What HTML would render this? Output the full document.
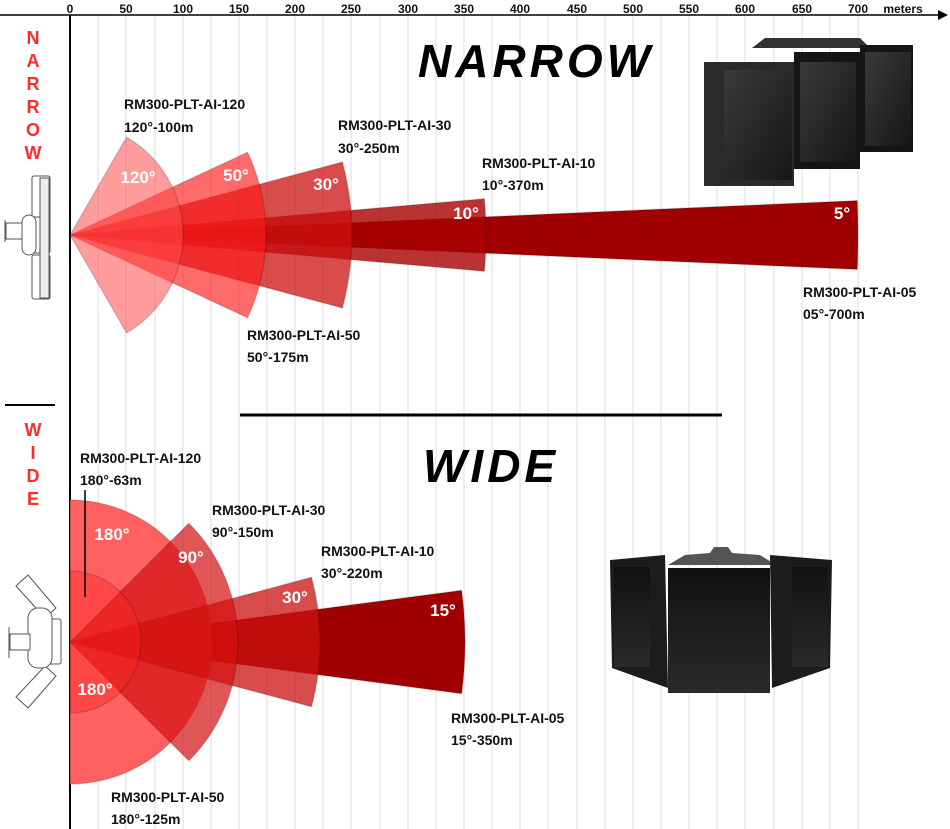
<!DOCTYPE html>
<html><head><meta charset="utf-8"><style>
html,body{margin:0;padding:0;background:#fff;}
svg{display:block;}
.lb{font-family:"Liberation Sans",sans-serif;font-weight:bold;font-size:14px;fill:#111;}
.ax{font-family:"Liberation Sans",sans-serif;font-weight:bold;font-size:12px;fill:#111;text-anchor:middle;}
.ang{font-family:"Liberation Sans",sans-serif;font-weight:bold;font-size:17px;fill:#fff;text-anchor:middle;}
.rl{font-family:"Liberation Sans",sans-serif;font-weight:bold;font-size:18px;fill:#ff2a2a;text-anchor:middle;}
.tt{font-family:"Liberation Sans",sans-serif;font-weight:bold;font-style:italic;font-size:46px;fill:#000;letter-spacing:4px;}
</style></head><body>
<svg width="950" height="829" viewBox="0 0 950 829" xmlns="http://www.w3.org/2000/svg">
<defs>
<linearGradient id="pg" x1="0" y1="0" x2="1" y2="1"><stop offset="0" stop-color="#3a3a3a"/><stop offset="1" stop-color="#161616"/></linearGradient>
<linearGradient id="wg" x1="0" y1="0" x2="0" y2="1"><stop offset="0" stop-color="#111"/><stop offset="1" stop-color="#2a2a2a"/></linearGradient>
</defs>
<g stroke="#dcdcdc" stroke-width="1">
<line x1="98" y1="15" x2="98" y2="829"/><line x1="126" y1="15" x2="126" y2="829"/><line x1="155" y1="15" x2="155" y2="829"/><line x1="183" y1="15" x2="183" y2="829"/><line x1="211" y1="15" x2="211" y2="829"/><line x1="239" y1="15" x2="239" y2="829"/><line x1="267" y1="15" x2="267" y2="829"/><line x1="295" y1="15" x2="295" y2="829"/><line x1="323" y1="15" x2="323" y2="829"/><line x1="351" y1="15" x2="351" y2="829"/><line x1="380" y1="15" x2="380" y2="829"/><line x1="408" y1="15" x2="408" y2="829"/><line x1="436" y1="15" x2="436" y2="829"/><line x1="464" y1="15" x2="464" y2="829"/><line x1="492" y1="15" x2="492" y2="829"/><line x1="520" y1="15" x2="520" y2="829"/><line x1="548" y1="15" x2="548" y2="829"/><line x1="577" y1="15" x2="577" y2="829"/><line x1="605" y1="15" x2="605" y2="829"/><line x1="633" y1="15" x2="633" y2="829"/><line x1="661" y1="15" x2="661" y2="829"/><line x1="689" y1="15" x2="689" y2="829"/><line x1="717" y1="15" x2="717" y2="829"/><line x1="745" y1="15" x2="745" y2="829"/><line x1="774" y1="15" x2="774" y2="829"/><line x1="802" y1="15" x2="802" y2="829"/><line x1="830" y1="15" x2="830" y2="829"/><line x1="858" y1="15" x2="858" y2="829"/>
</g>
<line x1="0" y1="15" x2="938" y2="15" stroke="#000" stroke-width="1.5"/>
<path d="M938,10 L948,15 L938,20 Z" fill="#000"/>
<line x1="70" y1="15" x2="70" y2="829" stroke="#000" stroke-width="2"/>
<g class="ax">
<text x="70" y="13">0</text><text x="126" y="13">50</text><text x="183" y="13">100</text><text x="239" y="13">150</text><text x="295" y="13">200</text><text x="351" y="13">250</text><text x="408" y="13">300</text><text x="464" y="13">350</text><text x="520" y="13">400</text><text x="577" y="13">450</text><text x="633" y="13">500</text><text x="689" y="13">550</text><text x="745" y="13">600</text><text x="802" y="13">650</text><text x="858" y="13">700</text><text x="903" y="13">meters</text>
</g>
<!-- NARROW sectors -->
<g stroke="rgba(0,0,0,0.15)" stroke-width="1.5">
<path d="M70,235 L857.2,200.6 A788,788 0 0 1 857.2,269.4 Z" fill="#a00000"/>
<path d="M70,235 L484.4,198.7 A416,416 0 0 1 484.4,271.3 Z" fill="#a80000" fill-opacity="0.8"/>
<path d="M70,235 L342.4,162 A282,282 0 0 1 342.4,308 Z" fill="#cc1010" fill-opacity="0.75"/>
<path d="M70,235 L247.6,152.2 A196,196 0 0 1 247.6,317.8 Z" fill="#ff1a1a" fill-opacity="0.65"/>
<path d="M70,235 L126.5,137.1 A113,113 0 0 1 126.5,332.9 Z" fill="#ff4a4a" fill-opacity="0.55"/>
</g>
<!-- WIDE sectors -->
<g stroke="rgba(0,0,0,0.15)" stroke-width="1.5">
<path d="M70,642 L461.6,590.4 A395,395 0 0 1 461.6,693.6 Z" fill="#a00000"/>
<path d="M70,500 A142,142 0 0 1 70,784 Z" fill="#ff5050" fill-opacity="0.9"/>
<path d="M70,642 L311.5,577.3 A250,250 0 0 1 311.5,706.7 Z" fill="#cc1010" fill-opacity="0.75"/>
<path d="M70,642 L188.8,523.2 A168,168 0 0 1 188.8,760.8 Z" fill="#d41010" fill-opacity="0.7"/>
<path d="M70,571 A71,71 0 0 1 70,713 Z" fill="#ff2020" fill-opacity="0.4"/>
</g>
<line x1="85" y1="490" x2="85" y2="597" stroke="#000" stroke-width="1.5"/>
<g class="ang">
<text x="138" y="183">120°</text><text x="236" y="181">50°</text><text x="326" y="190">30°</text><text x="466" y="219">10°</text><text x="842" y="219">5°</text>
<text x="112" y="540">180°</text><text x="191" y="563">90°</text><text x="295" y="603">30°</text><text x="443" y="616">15°</text><text x="95" y="695">180°</text>
</g>
<g class="lb">
<text x="124" y="109">RM300-PLT-AI-120</text><text x="124" y="132">120°-100m</text>
<text x="338" y="130">RM300-PLT-AI-30</text><text x="338" y="153">30°-250m</text>
<text x="482" y="168">RM300-PLT-AI-10</text><text x="482" y="190">10°-370m</text>
<text x="247" y="340">RM300-PLT-AI-50</text><text x="247" y="362">50°-175m</text>
<text x="803" y="297">RM300-PLT-AI-05</text><text x="803" y="319">05°-700m</text>
<text x="80" y="463">RM300-PLT-AI-120</text><text x="80" y="485">180°-63m</text>
<text x="212" y="515">RM300-PLT-AI-30</text><text x="212" y="537">90°-150m</text>
<text x="321" y="556">RM300-PLT-AI-10</text><text x="321" y="578">30°-220m</text>
<text x="451" y="723">RM300-PLT-AI-05</text><text x="451" y="745">15°-350m</text>
<text x="111" y="802">RM300-PLT-AI-50</text><text x="111" y="824">180°-125m</text>
</g>
<text class="tt" x="418" y="77">NARROW</text>
<text class="tt" x="423" y="482">WIDE</text>
<line x1="240" y1="415" x2="722" y2="415" stroke="#000" stroke-width="3"/>
<line x1="5" y1="405" x2="55" y2="405" stroke="#000" stroke-width="2"/>
<g class="rl">
<text x="33" y="44">N</text><text x="33" y="67">A</text><text x="33" y="90">R</text><text x="33" y="113">R</text><text x="33" y="136">O</text><text x="33" y="159">W</text>
<text x="33" y="436">W</text><text x="33" y="459">I</text><text x="33" y="482">D</text><text x="33" y="505">E</text>
</g>
<g fill="#fff" stroke="#555" stroke-width="1">
<rect x="32" y="176" width="18" height="50" rx="2"/><rect x="32" y="217" width="18" height="36" rx="2"/><rect x="32" y="255" width="18" height="44" rx="2"/>
<rect x="40" y="178" width="9" height="120" fill="#eee"/>
<rect x="6" y="223" width="18" height="16"/><line x1="5" y1="220" x2="5" y2="242"/>
<rect x="22" y="215" width="14" height="40" rx="7"/>
</g>
<g fill="#fff" stroke="#555" stroke-width="1">
<path d="M16,586 L28,575 L56,608 L45,618 Z"/><path d="M16,697 L28,708 L56,676 L45,666 Z"/>
<rect x="47" y="619" width="14" height="45" rx="2"/>
<rect x="28" y="608" width="24" height="60" rx="10"/>
<rect x="10" y="634" width="20" height="16"/><line x1="9" y1="627" x2="9" y2="658"/>
</g>
<g>
<path d="M752,48 L765,38 L860,38 L870,48 Z" fill="#333"/>
<rect x="704" y="62" width="90" height="124" fill="#2a2a2a"/>
<rect x="724" y="70" width="68" height="110" fill="url(#pg)"/>
<rect x="794" y="52" width="66" height="117" fill="#151515"/>
<rect x="800" y="62" width="56" height="100" fill="url(#pg)"/>
<rect x="860" y="45" width="53" height="107" fill="#151515"/>
<rect x="865" y="52" width="46" height="94" fill="url(#pg)"/>
</g>
<g>
<path d="M668,565 L685,555 L710,553 L714,547 L728,547 L732,553 L760,555 L776,565 Z" fill="#555"/>
<path d="M610,560 L665,555 L668,688 L612,668 Z" fill="#1c1c1c"/>
<rect x="614" y="567" width="36" height="100" fill="url(#wg)"/>
<rect x="668" y="568" width="102" height="125" fill="url(#wg)"/>
<path d="M770,555 L832,560 L830,668 L772,688 Z" fill="#1c1c1c"/>
<rect x="792" y="567" width="36" height="100" fill="url(#wg)"/>
</g>
</svg>
</body></html>
